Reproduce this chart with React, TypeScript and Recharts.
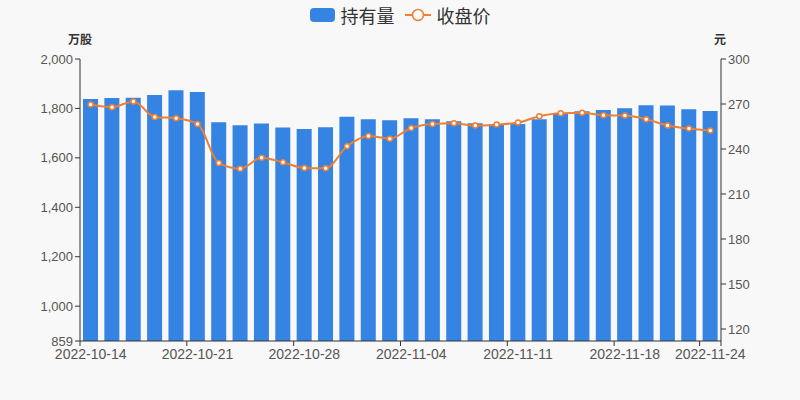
import { ComposedChart, Bar, Line, XAxis, YAxis } from 'recharts';

const dates = [
  '2022-10-14', '2022-10-17', '2022-10-18', '2022-10-19', '2022-10-20', '2022-10-21',
  '2022-10-24', '2022-10-25', '2022-10-26', '2022-10-27', '2022-10-28',
  '2022-10-31', '2022-11-01', '2022-11-02', '2022-11-03', '2022-11-04',
  '2022-11-07', '2022-11-08', '2022-11-09', '2022-11-10', '2022-11-11',
  '2022-11-14', '2022-11-15', '2022-11-16', '2022-11-17', '2022-11-18',
  '2022-11-21', '2022-11-22', '2022-11-23', '2022-11-24',
];

// 持有量 (万股)
const holdings = [
  1838, 1842, 1843, 1854, 1874, 1866, 1744, 1732, 1739, 1723, 1717, 1724, 1766, 1756, 1752,
  1760, 1756, 1748, 1740, 1735, 1737, 1756, 1779, 1789, 1794, 1801, 1813, 1812, 1797, 1790,
];

// 收盘价 (元)
const prices = [
  269.7, 267.9, 271.7, 261.4, 260.5, 256.7, 230.6, 226.9, 234.2, 231.1, 227.3, 227.1, 241.8, 248.7, 246.9,
  254.0, 256.7, 257.2, 255.6, 256.3, 257.6, 261.9, 263.9, 264.1, 262.5, 262.3, 259.9, 255.6, 253.6, 252.3,
];

const leftTicks = [859, 1000, 1200, 1400, 1600, 1800, 2000];
const rightTicks = [120, 150, 180, 210, 240, 270, 300];
const shownDates = ['2022-10-14', '2022-10-21', '2022-10-28', '2022-11-04', '2022-11-11', '2022-11-18', '2022-11-24'];

const data = dates.map((d, i) => ({ date: d, holding: holdings[i], price: prices[i] }));

const BLUE = '#3583e3';
const ORANGE = '#ee7f33';
const AXIS = '#333';
const TEXT = '#555';
const NUM_FONT = '"Liberation Sans", Arial, sans-serif';

function DateTick(props: any) {
  const { x, y, payload, index } = props;
  if (!shownDates.includes(payload.value)) return null;
  const half = payload.offset || 0;
  const isLast = index === dates.length - 1;
  return (
    <g>
      <line x1={x - half} x2={x - half} y1={y - 8} y2={y - 3} stroke={AXIS} />
      {isLast && <line x1={x + half} x2={x + half} y1={y - 8} y2={y - 3} stroke={AXIS} />}
      <text x={x} y={y} dy={10} textAnchor="middle" fontSize={14} fontFamily={NUM_FONT} fill={TEXT}>
        {payload.value}
      </text>
    </g>
  );
}

function App() {
  const font = '"Microsoft YaHei", "Noto Sans CJK SC", "Liberation Sans", sans-serif';
  return (
    <div style={{ position: 'absolute', left: 0, top: 0, width: 800, height: 400, background: '#f8f8f8', fontFamily: font }}>
      <div style={{ position: 'absolute', top: 0, left: 0, width: 800, height: 30, display: 'flex', justifyContent: 'center', alignItems: 'center', fontSize: 18, color: '#333' }}>
        <span style={{ display: 'inline-block', width: 25, height: 14, borderRadius: 4, background: BLUE, marginRight: 6 }} />
        <span>持有量</span>
        <svg width={26} height={14} style={{ marginLeft: 10, marginRight: 6 }}>
          <line x1={0} x2={26} y1={7} y2={7} stroke={ORANGE} strokeWidth={2} />
          <circle cx={13} cy={7} r={5.5} fill="#fff" stroke={ORANGE} strokeWidth={1.5} />
        </svg>
        <span>收盘价</span>
      </div>
      <div style={{ position: 'absolute', top: 30, left: 68, fontSize: 12, fontWeight: 'bold', color: '#333' }}>万股</div>
      <div style={{ position: 'absolute', top: 30, left: 714, fontSize: 12, fontWeight: 'bold', color: '#333' }}>元</div>
      <ComposedChart width={800} height={400} data={data} margin={{ top: 59, right: 0, bottom: 0, left: 0 }}>
        <XAxis
          dataKey="date"
          interval={0}
          height={59}
          tickLine={false}
          axisLine={{ stroke: AXIS }}
          tick={<DateTick />}
        />
        <YAxis
          yAxisId="left"
          width={80}
          domain={[859, 2000]}
          ticks={leftTicks}
          tickFormatter={(v) => v.toLocaleString('en-US')}
          axisLine={{ stroke: AXIS }}
          tickLine={{ stroke: AXIS }}
          tickSize={5}
          tick={{ fontSize: 13, fill: TEXT, fontFamily: NUM_FONT }}
        />
        <YAxis
          yAxisId="right"
          orientation="right"
          width={79}
          domain={[112, 300]}
          ticks={rightTicks}
          allowDataOverflow
          axisLine={{ stroke: AXIS }}
          tickLine={{ stroke: AXIS }}
          tickSize={5}
          tick={{ fontSize: 13, fill: TEXT, fontFamily: NUM_FONT }}
        />
        <Bar yAxisId="left" dataKey="holding" name="持有量" fill={BLUE} barSize={15} isAnimationActive={false} />
        <Line
          yAxisId="right"
          dataKey="price"
          name="收盘价"
          type="monotone"
          stroke={ORANGE}
          strokeWidth={2}
          dot={{ r: 2.5, fill: '#fff', stroke: ORANGE, strokeWidth: 1.5 }}
          isAnimationActive={false}
        />
      </ComposedChart>
    </div>
  );
}

export default App;
